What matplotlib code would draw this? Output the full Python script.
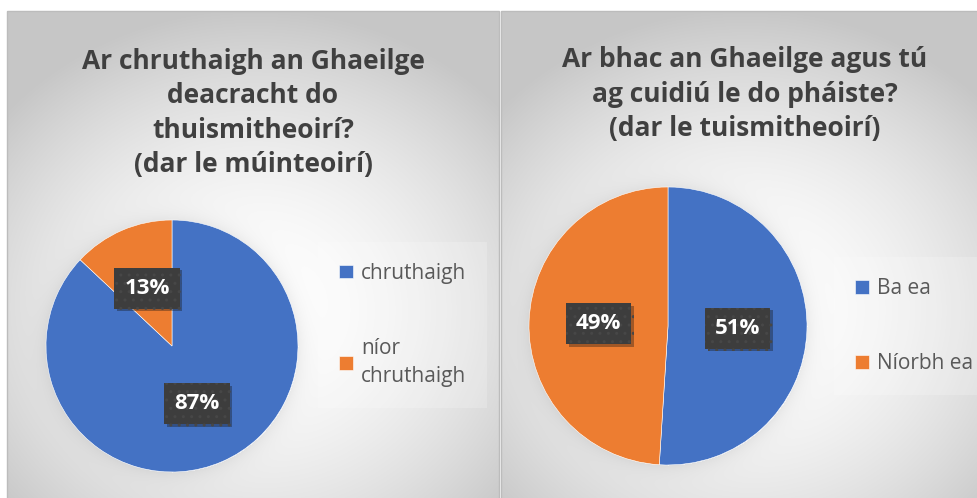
import numpy as np
import matplotlib.pyplot as plt
from matplotlib.patches import Rectangle
from matplotlib import patheffects as pe

W, H = 978, 498

# data
title_left = "Ar chruthaigh an Ghaeilge\ndeacracht do\nthuismitheoirí?\n(dar le múinteoirí)"
labels_left = ["chruthaigh", "níor\nchruthaigh"]
values_left = [87, 13]

title_right = "Ar bhac an Ghaeilge agus tú\nag cuidiú le do pháiste?\n(dar le tuismitheoirí)"
labels_right = ["Ba ea", "Níorbh ea"]
values_right = [51, 49]

colors = ["#4472C4", "#ED7D31"]
text_col = "#404040"
FONT = "Open Sans"

plt.rcParams['font.family'] = [FONT, 'DejaVu Sans']

fig = plt.figure(figsize=(W / 100, H / 100), dpi=100)

# background: two panels with a radial grey gradient and a soft halo round each pie
bg = fig.add_axes([0, 0, 1, 1])
bg.set_xlim(0, W)
bg.set_ylim(H, 0)
bg.axis('off')
img = np.ones((H, W, 3))
yy, xx = np.mgrid[0:H, 0:W]
panels = [(7, 499, 255, 310, 172, 346, 126), (501, W, 745, 310, 668, 326, 139)]
for x0, x1, cx, cy, px, py, pr in panels:
    d = np.hypot((xx - cx) / 330, (yy - cy) / 300)
    v = 1 - 0.22 * np.clip(d, 0, 1) ** 1.8
    dp = np.hypot(xx - px, yy - py) - pr
    v = v - 0.06 * np.exp(-np.clip(dp, 0, None) / 9) * (dp > 0)
    m = (xx >= x0) & (xx < x1) & (yy >= 11)
    img[m] = v[m][:, None]
bg.imshow(img, extent=(0, W, H, 0), aspect='auto', interpolation='bilinear')
bg.add_patch(Rectangle((7, 11), 492, 490, fill=False, ec='#bcbcbc', lw=1))
bg.add_patch(Rectangle((501, 11), 490, 490, fill=False, ec='#bcbcbc', lw=1))


def draw_pie(rect, values, labels, title, title_xy, leg_xy):
    ax = fig.add_axes(rect)
    wedges, _, autotexts = ax.pie(
        values, colors=colors, startangle=90, counterclock=False,
        autopct='%1.0f%%', pctdistance=0.5,
        wedgeprops=dict(edgecolor='white', linewidth=0.4),
        textprops=dict(color='white', fontsize=16, fontweight='bold'))
    ax.set_xlim(-1, 1)
    ax.set_ylim(-1, 1)
    for t in autotexts:
        t.set_bbox(dict(boxstyle='square,pad=0.45', facecolor='#3d3d3d',
                        edgecolor='#474747', linewidth=0, hatch='..'))
        t.get_bbox_patch().set_path_effects(
            [pe.SimplePatchShadow(offset=(2, -2), alpha=0.35), pe.Normal()])
    fig.text(title_xy[0] / W, 1 - title_xy[1] / H, title, ha='center', va='center',
             fontsize=19, fontweight='bold', color=text_col, linespacing=1.35)
    leg = ax.legend(wedges, labels, loc='center left',
                    bbox_to_anchor=(leg_xy[0] / W, 1 - leg_xy[1] / H),
                    bbox_transform=fig.transFigure, fontsize=15,
                    labelspacing=2.6, handlelength=0.65, handleheight=0.65,
                    handletextpad=0.4, frameon=True, fancybox=False,
                    borderpad=1.0)
    leg.get_frame().set_facecolor('white')
    leg.get_frame().set_alpha(0.2)
    leg.get_frame().set_linewidth(0)
    for t in leg.get_texts():
        t.set_color('#595959')
        t.set_linespacing(1.45)
    return ax


draw_pie([(172 - 126) / W, 1 - (346 + 126) / H, 252 / W, 252 / H],
         values_left, labels_left, title_left, (253, 113), (308, 325))
draw_pie([(668 - 139) / W, 1 - (326 + 139) / H, 278 / W, 278 / H],
         values_right, labels_right, title_right, (745, 94), (824, 326))

fig.savefig("out.png", dpi=100)
